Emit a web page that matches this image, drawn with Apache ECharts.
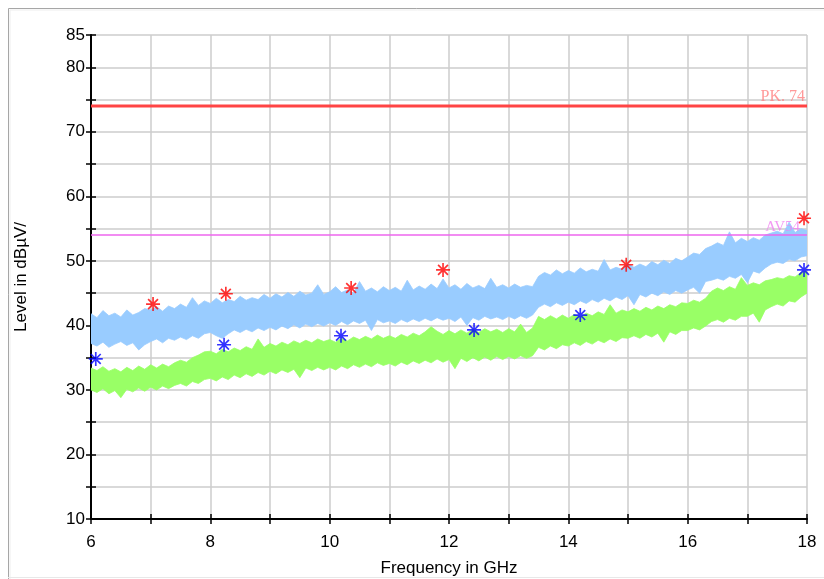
<!DOCTYPE html>
<html>
<head>
<meta charset="utf-8">
<script src="https://cdn.jsdelivr.net/npm/echarts@6/dist/echarts.min.js"></script>
<style>
html,body{margin:0;padding:0;background:#ffffff;}
#chart{width:824px;height:579px;}
</style>
</head>
<body>
<div id="chart"></div>
<script>
// Frequency sweep grid (GHz)
var freq = [6.0,6.1,6.2,6.3,6.4,6.5,6.6,6.7,6.8,6.9,7.0,7.1,7.2,7.3,7.4,7.5,7.6,7.7,7.8,7.9,
8.0,8.1,8.2,8.3,8.4,8.5,8.6,8.7,8.8,8.9,9.0,9.1,9.2,9.3,9.4,9.5,9.6,9.7,9.8,9.9,
10.0,10.1,10.2,10.3,10.4,10.5,10.6,10.7,10.8,10.9,11.0,11.1,11.2,11.3,11.4,11.5,11.6,11.7,11.8,11.9,
12.0,12.1,12.2,12.3,12.4,12.5,12.6,12.7,12.8,12.9,13.0,13.1,13.2,13.3,13.4,13.5,13.6,13.7,13.8,13.9,
14.0,14.1,14.2,14.3,14.4,14.5,14.6,14.7,14.8,14.9,15.0,15.1,15.2,15.3,15.4,15.5,15.6,15.7,15.8,15.9,
16.0,16.1,16.2,16.3,16.4,16.5,16.6,16.7,16.8,16.9,17.0,17.1,17.2,17.3,17.4,17.5,17.6,17.7,17.8,17.9,18.0];

// Peak trace (light blue) envelope, dBµV
var peakHi = [41.8,41.2,42.3,41.5,41.9,41.3,42.4,41.6,42.0,42.6,42.4,42.9,42.2,43.0,42.6,43.3,42.8,44.3,43.1,43.8,
43.4,44.2,43.5,44.0,43.7,44.5,43.9,44.3,44.0,44.8,44.2,44.9,44.4,45.1,44.5,45.3,44.7,45.0,46.3,44.8,
45.2,46.0,45.1,45.5,45.0,46.8,45.3,45.8,45.2,46.0,45.4,45.9,45.3,47.0,45.5,46.1,45.6,46.4,45.7,47.2,
45.8,46.3,45.6,46.5,45.8,46.2,45.7,47.3,45.9,46.3,45.8,46.4,45.9,46.2,46.0,47.6,48.2,47.8,48.6,48.0,
48.5,48.1,48.9,48.3,48.7,48.4,50.2,48.6,49.0,48.7,49.6,49.0,49.5,49.1,49.9,49.4,50.1,49.6,50.4,50.0,
50.6,51.2,51.0,51.9,52.3,52.8,52.4,54.5,52.8,53.5,53.0,53.6,53.2,54.0,54.3,54.6,54.2,56.0,54.4,55.0,54.7];
var peakLo = [37.2,36.8,37.4,36.6,37.1,37.5,36.9,37.3,36.2,37.0,37.5,37.9,37.3,38.0,37.7,38.2,37.8,38.4,38.0,38.7,
38.9,38.4,38.0,38.7,39.3,38.9,39.4,39.0,39.6,39.2,39.7,39.3,39.9,39.5,40.1,39.6,40.2,39.8,40.3,39.9,
40.4,40.0,40.6,40.1,40.7,40.3,40.8,39.2,40.9,40.4,40.7,40.3,40.9,40.5,41.0,40.6,41.1,40.7,41.2,40.8,
41.1,40.6,41.3,40.0,41.2,40.8,41.4,41.0,41.3,40.9,41.4,41.0,41.5,41.1,41.6,42.8,43.3,42.9,43.5,43.1,
43.6,43.2,43.8,43.4,44.0,43.6,44.2,43.8,44.4,44.0,44.6,43.2,44.8,44.4,45.0,44.6,45.2,44.8,45.4,45.0,
45.5,45.9,45.0,46.8,47.0,47.3,47.0,47.6,47.3,47.9,46.6,48.4,48.1,48.9,49.5,49.8,49.6,50.2,50.0,50.6,50.8];

// Average trace (green) envelope, dBµV
var avgHi = [33.4,33.0,33.6,32.9,33.3,32.8,33.5,33.0,33.7,33.2,33.9,33.4,34.0,33.6,34.2,34.6,34.3,35.0,35.4,35.9,
36.0,35.6,36.3,35.9,36.5,36.1,36.7,36.3,37.9,36.6,37.2,36.8,37.4,37.0,37.6,37.2,37.7,37.3,37.9,37.5,
37.8,37.4,38.0,37.6,38.2,37.8,38.3,37.9,38.5,38.0,38.4,38.0,38.6,38.2,38.8,38.4,39.0,39.8,39.1,38.6,
39.2,38.7,39.3,38.8,39.4,38.9,39.5,39.0,39.4,38.9,39.5,39.0,40.2,38.9,39.6,41.4,40.9,41.5,41.0,41.6,
41.1,41.7,41.3,41.9,41.5,42.1,41.7,43.2,41.9,42.4,42.1,42.6,42.2,42.8,42.4,43.0,42.6,43.2,42.9,43.5,
43.4,43.9,43.6,44.2,45.3,45.8,45.4,46.0,45.6,47.4,46.2,46.6,46.3,46.9,47.1,47.4,47.2,47.7,47.5,48.2,48.4];
var avgLo = [30.0,29.6,30.2,29.4,29.9,28.8,30.1,29.7,30.3,29.8,30.4,30.0,30.6,30.2,30.7,31.0,30.6,31.3,31.0,31.6,
31.8,31.4,32.0,31.6,32.3,31.9,32.5,32.1,32.7,32.3,32.9,32.5,33.1,32.7,33.2,31.9,33.4,33.0,33.5,33.1,
33.5,33.1,33.7,33.3,33.9,33.5,34.0,33.6,34.2,33.8,34.1,33.7,34.3,33.9,34.5,34.1,34.6,34.2,34.8,34.3,
34.7,33.3,34.9,34.4,35.0,34.5,35.1,34.6,35.2,34.7,35.2,34.8,35.3,34.9,35.3,36.6,36.2,36.8,36.4,37.0,
36.8,37.3,36.9,37.5,37.1,37.7,37.3,37.9,37.5,38.1,38.0,38.4,38.0,38.6,38.2,38.8,37.4,39.0,38.6,39.2,
39.2,39.6,39.3,39.9,40.6,40.9,40.5,41.1,40.8,41.4,41.4,41.9,40.5,42.4,42.9,43.3,43.0,43.8,43.6,44.4,45.0];

// Final measurement markers
var peakMarkFreq = [7.04, 8.26, 10.36, 11.9, 14.97, 17.95];
var peakMarkLevel = [43.3, 44.9, 45.8, 48.6, 49.4, 56.6];
var avgMarkFreq = [6.08, 8.23, 10.19, 12.42, 14.2, 17.95];
var avgMarkLevel = [34.8, 37.0, 38.4, 39.3, 41.6, 48.6];

// Limit lines
var limitFreq = [6, 18];
var pkLimit = [74, 74];
var avLimit = [54, 54];
var pkLabel = 'PK. 74';
var avLabel = 'AV54';

// Axis settings
var xMin = 6, xMax = 18, xStep = 1;
var yMin = 10, yMax = 85, yStep = 5;
var xName = 'Frequency in GHz';
var yName = 'Level in dBµV/';

var starPath = 'path://M0 8.8L20 8.8L20 11.2L0 11.2Z M8.8 0L11.2 0L11.2 20L8.8 20Z M2.1 3.8L3.8 2.1L17.9 16.2L16.2 17.9Z M16.2 2.1L17.9 3.8L3.8 17.9L2.1 16.2Z';

function bandSeries(name, lo, hi, color) {
  return {
    name: name,
    type: 'custom',
    xAxisIndex: 0, yAxisIndex: 0,
    silent: true,
    clip: true,
    data: freq.map(function (f, i) { return [f, lo[i], hi[i]]; }),
    renderItem: function (params, api) {
      if (params.dataIndex !== 0) return null;
      var top = [], bottom = [];
      for (var i = 0; i < freq.length; i++) {
        top.push(api.coord([freq[i], hi[i]]));
        bottom.push(api.coord([freq[i], lo[i]]));
      }
      var pts = top.concat(bottom.reverse());
      return {
        type: 'polygon',
        shape: { points: pts },
        style: { fill: color, stroke: color, lineWidth: 0.8 }
      };
    },
    z: 2
  };
}

var chart = echarts.init(document.getElementById('chart'), null, { renderer: 'canvas' });

var fontFam = 'Liberation Sans, Arial, sans-serif';
var labelFont = { color: '#000', fontSize: 17, fontFamily: fontFam };

var option = {
  animation: false,
  backgroundColor: '#ffffff',
  graphic: [
    { type: 'polyline', shape: { points: [[8.5, 600], [8.5, 8.5], [830, 8.5]] }, style: { stroke: '#a6a6a6', lineWidth: 1, fill: null }, z: 0 },
    { type: 'polyline', shape: { points: [[10, 600], [10, 10], [830, 10]] }, style: { stroke: '#eeeeee', lineWidth: 1, fill: null }, z: 0 },
    { type: 'line', shape: { x1: 8, y1: 577.5, x2: 830, y2: 577.5 }, style: { stroke: '#e8e8e8', lineWidth: 1 }, z: 0 }
  ],
  grid: { left: 91, right: 17, top: 35, bottom: 60, containLabel: false, outerBoundsMode: 'none' },
  xAxis: [
    {
      type: 'value', min: xMin, max: xMax, interval: xStep,
      name: xName, nameLocation: 'middle', nameGap: 41,
      nameTextStyle: labelFont,
      axisLine: { show: true, onZero: false, lineStyle: { color: '#000', width: 2 } },
      axisTick: { show: true, length: 5, lineStyle: { color: '#000', width: 1.5 } },
      axisLabel: {
        margin: 15, color: '#000', fontSize: 17, fontFamily: fontFam,
        formatter: function (v) { return (Math.round(v) % 2 === 0) ? String(Math.round(v)) : ''; }
      },
      splitLine: { show: true, lineStyle: { color: '#cccccc', width: 1.5 } }
    },
    {
      type: 'value', min: xMin, max: xMax, interval: xStep, position: 'bottom',
      axisLine: { show: false },
      axisTick: { show: true, inside: true, length: 5, lineStyle: { color: '#000', width: 1.5 } },
      axisLabel: { show: false }, splitLine: { show: false }
    }
  ],
  yAxis: [
    {
      type: 'value', min: yMin, max: yMax, interval: yStep,
      name: yName, nameLocation: 'middle', nameGap: 61, nameRotate: 90,
      nameTextStyle: labelFont,
      axisLine: { show: true, onZero: false, lineStyle: { color: '#000', width: 2 } },
      axisTick: { show: true, length: 5, lineStyle: { color: '#000', width: 1.5 } },
      axisLabel: {
        margin: 6, color: '#000', fontSize: 17, fontFamily: fontFam,
        formatter: function (v) { return (v % 10 === 0 || v === yMax) ? String(v) : ''; }
      },
      splitLine: { show: true, lineStyle: { color: '#cccccc', width: 1.5 } }
    },
    {
      type: 'value', min: yMin, max: yMax, interval: yStep, position: 'left',
      axisLine: { show: false },
      axisTick: { show: true, inside: true, length: 5, lineStyle: { color: '#000', width: 1.5 } },
      axisLabel: { show: false }, splitLine: { show: false }
    }
  ],
  series: [
    bandSeries('Peak', peakLo, peakHi, '#99ccff'),
    bandSeries('Average', avgLo, avgHi, '#99ff66'),
    {
      name: 'PK limit', type: 'line', showSymbol: false, symbol: 'none', silent: true,
      data: limitFreq.map(function (f, i) { return [f, pkLimit[i]]; }),
      lineStyle: { color: '#ff4444', width: 3 },
      z: 3
    },
    {
      name: 'AV limit', type: 'line', showSymbol: false, symbol: 'none', silent: true,
      data: limitFreq.map(function (f, i) { return [f, avLimit[i]]; }),
      lineStyle: { color: '#ee66ee', width: 1.5 },
      z: 3
    },
    {
      name: 'PK limit label', type: 'scatter', symbolSize: 0, silent: true,
      data: [[limitFreq[1], pkLimit[1]]],
      label: { show: true, position: 'top', align: 'right', distance: 1, offset: [-2, 0],
        formatter: pkLabel, color: '#ff8080', fontSize: 16, fontFamily: 'Liberation Serif, serif' },
      z: 4
    },
    {
      name: 'AV limit label', type: 'scatter', symbolSize: 0, silent: true,
      data: [[limitFreq[1], avLimit[1]]],
      label: { show: true, position: 'top', align: 'right', distance: 0, offset: [-7, 0],
        formatter: avLabel, color: '#f080f0', fontSize: 15, fontFamily: 'Liberation Serif, serif' },
      z: 4
    },
    {
      name: 'Peak markers', type: 'scatter', symbol: starPath, symbolSize: 14, silent: true,
      data: peakMarkFreq.map(function (f, i) { return [f, peakMarkLevel[i]]; }),
      itemStyle: { color: '#ff0000' }, z: 5
    },
    {
      name: 'Average markers', type: 'scatter', symbol: starPath, symbolSize: 14, silent: true,
      data: avgMarkFreq.map(function (f, i) { return [f, avgMarkLevel[i]]; }),
      itemStyle: { color: '#0000ff' }, z: 5
    }
  ]
};
chart.setOption(option);
</script>
</body>
</html>
